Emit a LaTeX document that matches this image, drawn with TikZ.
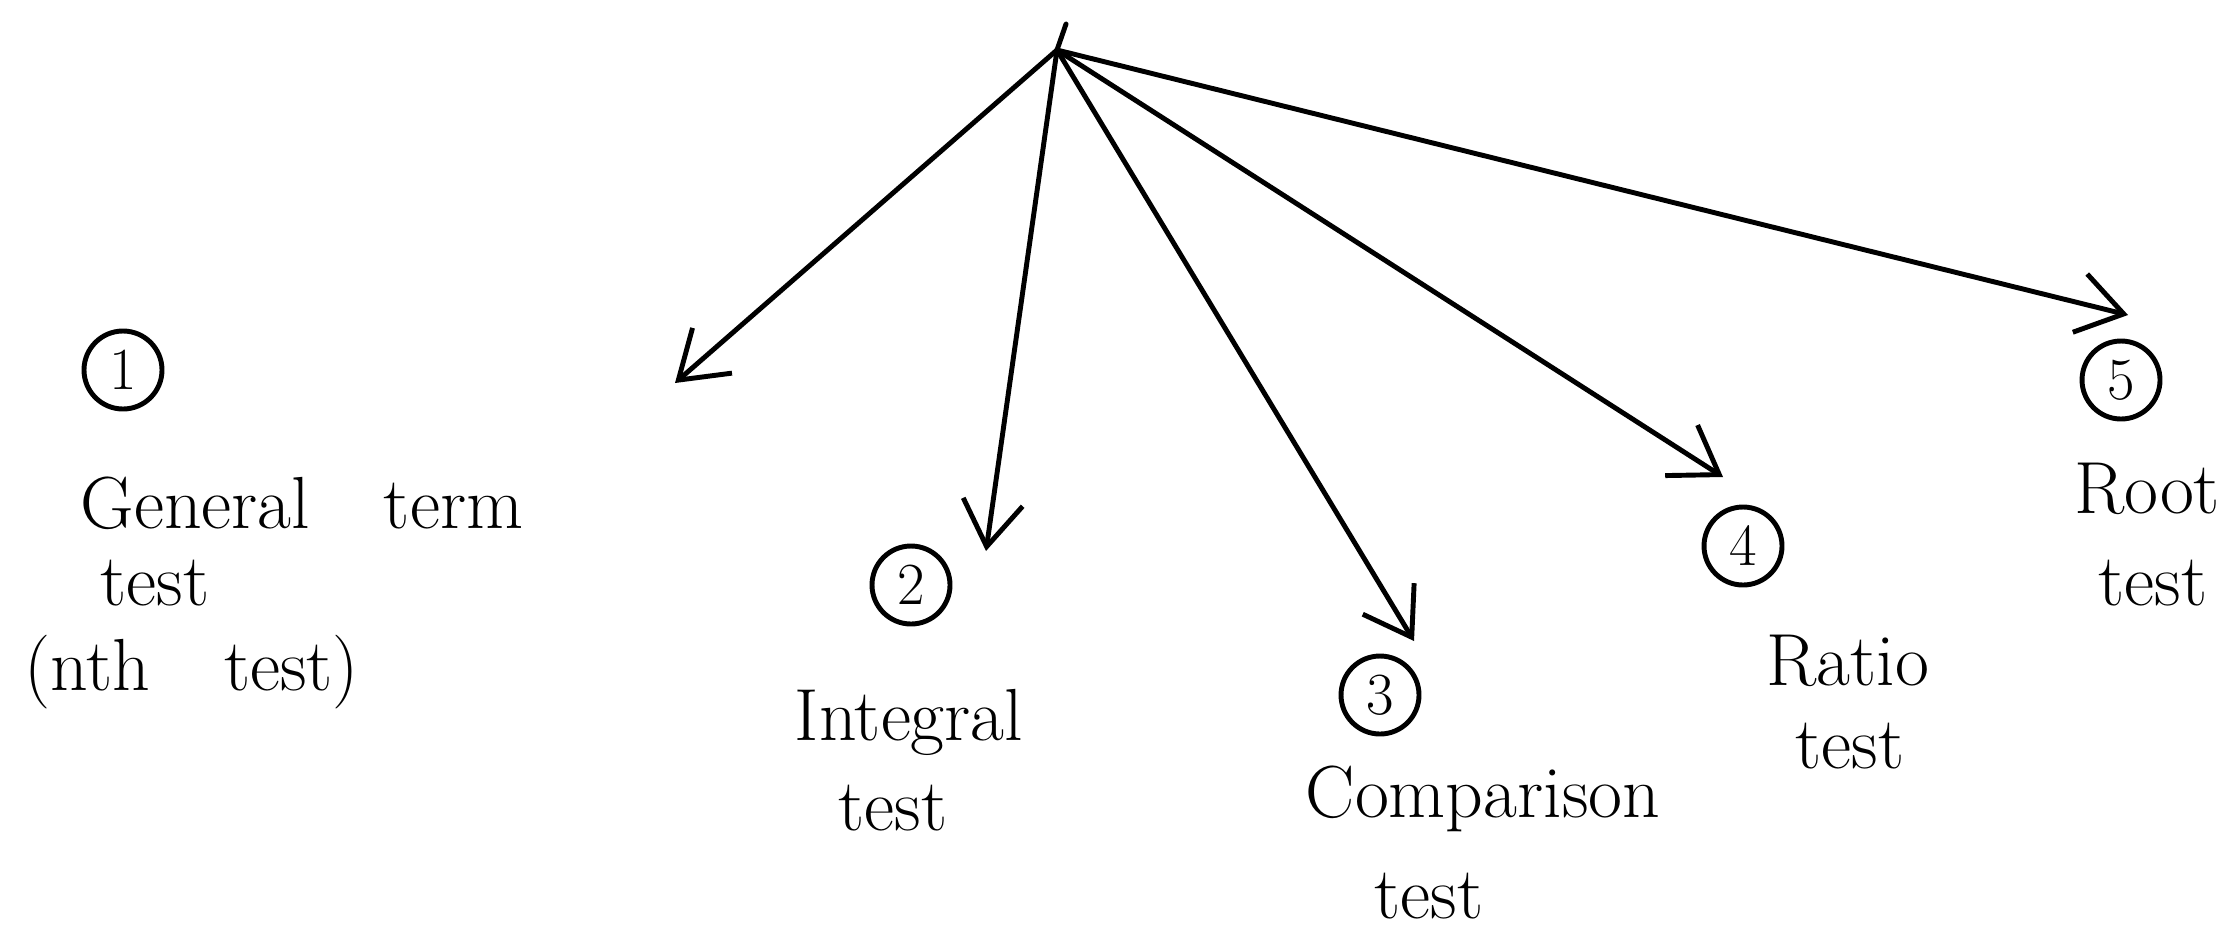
\documentclass[tikz,border=0pt]{standalone}
\usetikzlibrary{arrows.meta}
\begin{document}
\begin{tikzpicture}[>={Straight Barb[length=4.5mm,width=6mm]}, line width=1.4pt, line join=round, line cap=round,
	font=\fontsize{21}{24}\selectfont,
	num/.style={draw,circle,minimum size=7.8mm,inner sep=0pt,font=\fontsize{17}{18}\selectfont},
	lbl/.style={inner sep=0pt,anchor=base},
	lbll/.style={inner sep=0pt,anchor=base west}]
	\useasboundingbox (0,0) rectangle (22.38,9.34);
	\coordinate (hub) at (10.57,8.84);
	\coordinate (tick) at (10.66,9.10);
	% arrow ends
	\coordinate (e1) at (6.75,5.51);
	\coordinate (e2) at (9.86,3.83);
	\coordinate (e3) at (14.14,2.93);
	\coordinate (e4) at (17.23,4.57);
	\coordinate (e5) at (21.28,6.19);
	\draw (hub)--(tick);
	\foreach \i in {1,...,5}
	\draw[->] (hub)--(e\i);
	% tests
	\node[num] (n1) at (1.23,5.64) {1};
	\node[lbll] (gen) at (0.78,4.06) {General\quad term};
	\node[lbll] (gent) at (0.98,3.29) {test};
	\node[lbll] (nth) at (0.22,2.44) {(nth\quad test)};
	\node[num] (n2) at (9.11,3.49) {2};
	\node[lbl] (int) at (9.09,1.94) {Integral};
	\node[lbl] (intt) at (8.93,1.04) {test};
	\node[num] (n3) at (13.80,2.39) {3};
	\node[lbl] (comp) at (14.83,1.17) {Comparison};
	\node[lbl] (compt) at (14.29,0.16) {test};
	\node[num] (n4) at (17.43,3.88) {4};
	\node[lbl] (rat) at (18.48,2.49) {Ratio};
	\node[lbl] (ratt) at (18.50,1.66) {test};
	\node[num] (n5) at (21.21,5.54) {5};
	\node[lbl] (root) at (21.47,4.21) {Root};
	\node[lbl] (roott) at (21.53,3.29) {test};
\end{tikzpicture}
\end{document}
